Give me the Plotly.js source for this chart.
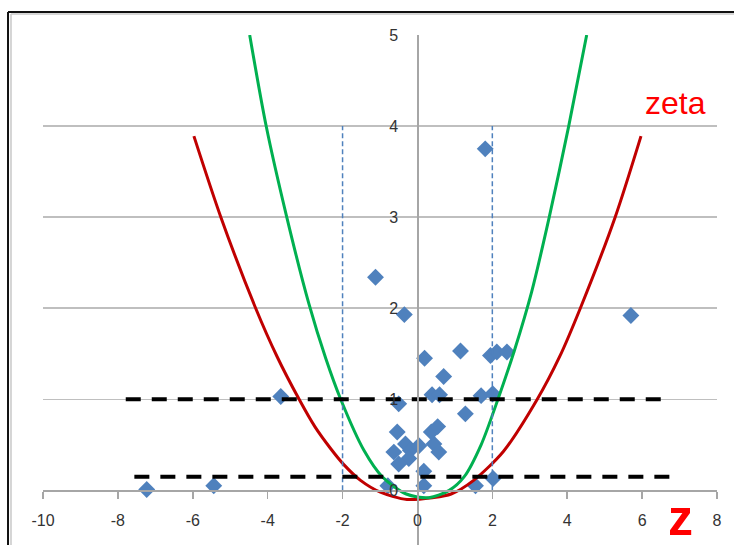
<!DOCTYPE html>
<html>
<head>
<meta charset="utf-8">
<script src="https://cdn.plot.ly/plotly-3.0.1.min.js"></script>
<style>html,body{margin:0;padding:0;background:#fff;}#chart{width:734px;height:545px;}</style>
</head>
<body>
<div id="chart"></div>
<script>
// x tick labels and y tick labels
const xTicks = [-10, -8, -6, -4, -2, 0, 2, 4, 6, 8];
const yTicks = [0, 1, 2, 3, 4, 5];

// scatter points (z, zeta)
const pointZ = [-7.23, -5.44, -3.65, -1.12, -0.35, -0.50, -0.54, -0.63, -0.32, -0.19, -0.23, -0.50, -0.79, 0.17, 0.17, 0.04, 0.44, 0.57, 0.37, 0.54, 0.19, 0.39, 0.59, 0.70, 1.15, 1.28, 1.70, 2.01, 1.95, 2.12, 2.39, 1.55, 2.02, 1.81, 5.70];
const pointZeta = [0.01, 0.05, 1.03, 2.34, 1.93, 0.95, 0.64, 0.42, 0.51, 0.44, 0.35, 0.29, 0.05, 0.05, 0.21, 0.49, 0.51, 0.42, 0.64, 0.70, 1.45, 1.05, 1.05, 1.25, 1.53, 0.84, 1.04, 1.06, 1.48, 1.52, 1.52, 0.05, 0.13, 3.75, 1.92];

// red curve
const redZ = [-5.97, -5.25, -4.32, -3.75, -3.16, -2.74, -2.32, -1.96, -1.52, -0.99, -0.28, 0.40, 0.90, 1.50, 2.30, 3.20, 3.80, 4.35, 5.28, 5.97];
const redZeta = [3.89, 3.00, 2.00, 1.47, 1.00, 0.70, 0.46, 0.28, 0.11, -0.02, -0.10, -0.08, -0.04, 0.11, 0.43, 1.00, 1.47, 2.00, 3.00, 3.89];

// green curve
const greenZ = [-4.48, -4.04, -3.49, -2.90, -2.45, -2.05, -1.43, -0.94, -0.30, 0.30, 0.85, 1.25, 1.70, 2.15, 2.60, 3.05, 3.52, 4.04, 4.52];
const greenZeta = [5.00, 4.00, 3.00, 2.05, 1.45, 1.00, 0.44, 0.15, -0.04, -0.08, 0.00, 0.15, 0.50, 1.00, 1.55, 2.18, 3.00, 4.00, 5.00];

// blue vertical reference lines
const critZ = [-2, 2];
const critTop = 4;

// black horizontal thresholds
const upperLevel = 1.0;
const upperZ = [-7.79, 6.53];
const lowerLevel = 0.15;
const lowerZ = [-7.56, 6.75];

const vx = [], vy = [];
critZ.forEach(function (c) { vx.push(c, c, null); vy.push(0, critTop, null); });

const traces = [
  {x: pointZ, y: pointZeta, type: 'scatter', mode: 'markers',
   marker: {symbol: 'diamond', size: 13, color: '#4f81bd', line: {width: 0}}},
  {x: redZ, y: redZeta, type: 'scatter', mode: 'lines',
   line: {color: '#c00000', width: 3, shape: 'spline', smoothing: 0.8}},
  {x: greenZ, y: greenZeta, type: 'scatter', mode: 'lines',
   line: {color: '#00b050', width: 3, shape: 'spline', smoothing: 0.8}},
  {x: vx, y: vy, type: 'scatter', mode: 'lines',
   line: {color: '#4f81bd', width: 1.5, dash: '5px,3px'}},
  {x: upperZ, y: [upperLevel, upperLevel], type: 'scatter', mode: 'lines',
   line: {color: '#000000', width: 4, dash: '15px,11px'}},
  {x: lowerZ, y: [lowerLevel, lowerLevel], type: 'scatter', mode: 'lines',
   line: {color: '#000000', width: 4, dash: '15px,11px'}}
];

const tickFont = {family: 'Liberation Sans, Arial, sans-serif', size: 16, color: '#333333'};

const layout = {
  width: 734, height: 545,
  margin: {l: 43, r: 17, t: 35, b: 0},
  paper_bgcolor: '#ffffff', plot_bgcolor: '#ffffff',
  showlegend: false,
  xaxis: {
    range: [-10, 8], tickvals: xTicks, ticktext: xTicks.map(String),
    showgrid: false, zeroline: false,
    showline: true, linecolor: '#a6a6a6', linewidth: 1.5,
    ticks: 'outside', ticklen: 7, tickcolor: '#a6a6a6', tickwidth: 1.5,
    ticklabelstandoff: 8,
    anchor: 'free', position: 0.6 / 5.6,
    tickfont: tickFont
  },
  yaxis: {
    range: [-0.6, 5], tickvals: yTicks, ticktext: yTicks.map(String),
    showgrid: true, gridcolor: '#bfbfbf', gridwidth: 1.5, zeroline: false,
    showline: true, linecolor: '#a6a6a6', linewidth: 1.5,
    ticks: '', ticklabelstandoff: 16,
    anchor: 'free', position: 10 / 18,
    tickfont: tickFont
  },
  annotations: [
    {x: 6.9, y: 4.25, xref: 'x', yref: 'y', text: 'zeta', showarrow: false,
     font: {family: 'Liberation Sans, Arial, sans-serif', size: 32, color: '#ff0000'}},
    {x: 7.02, y: -0.3, xref: 'x', yref: 'y', text: '<b>z</b>', showarrow: false,
     font: {family: 'Liberation Sans, Arial, sans-serif', size: 50, color: '#ff0000'}}
  ],
  shapes: [
    {type: 'line', xref: 'paper', yref: 'paper', x0: -0.0519, x1: -0.0519, y0: -0.2, y1: 1.0451,
     line: {color: '#111111', width: 2}},
    {type: 'line', xref: 'paper', yref: 'paper', x0: -0.0519, x1: 1.2, y0: 1.0451, y1: 1.0451,
     line: {color: '#111111', width: 2}},
    {type: 'line', xref: 'paper', yref: 'paper', x0: -0.0475, x1: -0.0475, y0: -0.2, y1: 1.041,
     line: {color: '#c8c8c8', width: 1.5}},
    {type: 'line', xref: 'paper', yref: 'paper', x0: -0.0475, x1: 1.2, y0: 1.041, y1: 1.041,
     line: {color: '#c8c8c8', width: 1.5}}
  ]
};

Plotly.newPlot('chart', traces, layout, {staticPlot: true, displayModeBar: false});
</script>
</body>
</html>
